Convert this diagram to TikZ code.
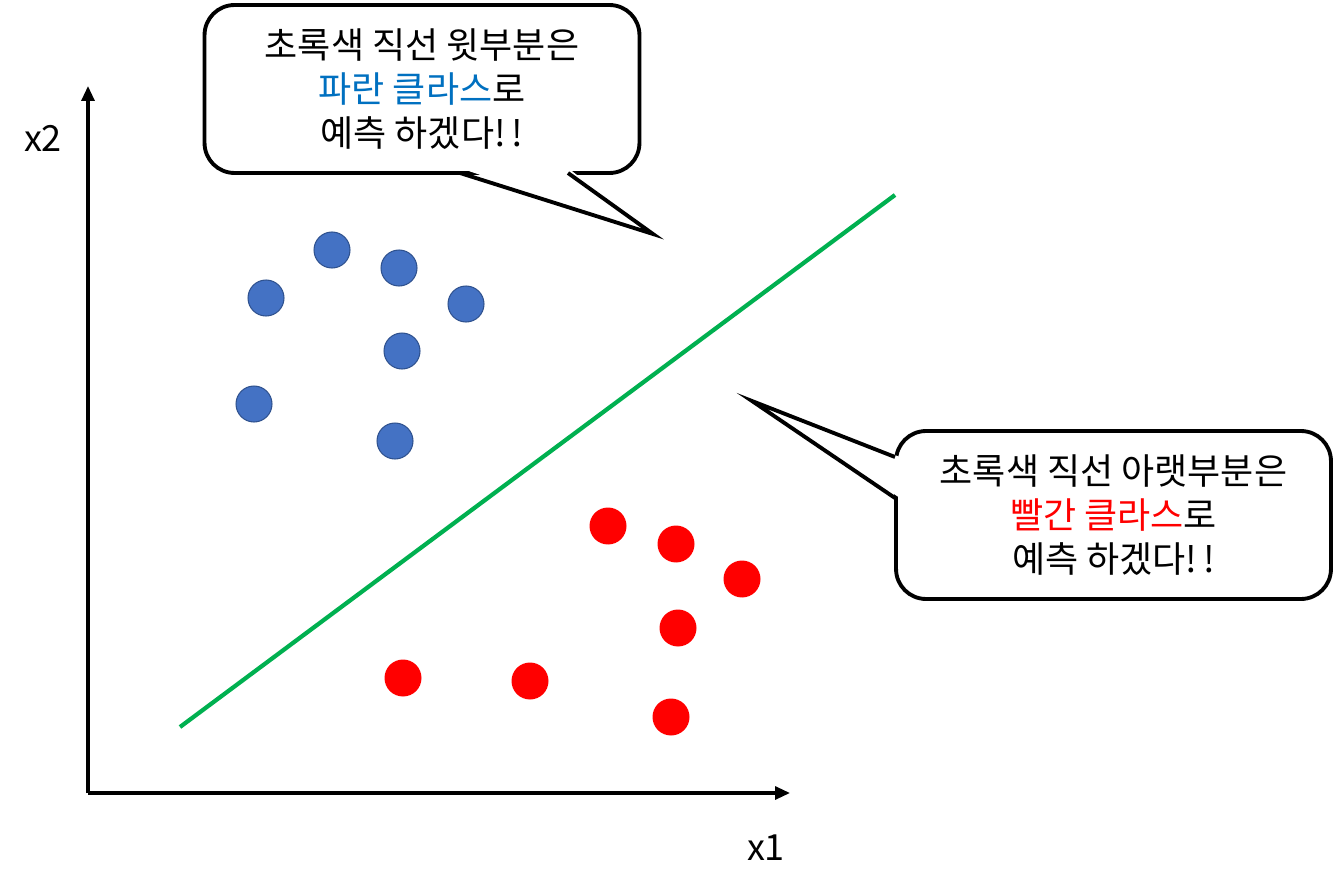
\documentclass[tikz,border=0pt]{standalone}
\usepackage{fontspec}
\setmainfont{Noto Sans CJK KR}
\usepackage{tikz}
\usetikzlibrary{arrows.meta, positioning, calc}

\definecolor{clsblue}{HTML}{0070C0}
\definecolor{clsred}{HTML}{FF0000}
\definecolor{dotblue}{HTML}{4472C4}
\definecolor{dotedge}{HTML}{2F528F}
\definecolor{linegreen}{HTML}{00B050}

\begin{document}
\begin{tikzpicture}[
  x=0.02cm, y=-0.02cm,
  bubble/.style={rectangle, draw, fill=white, line width=2.2pt, rounded corners=0.6cm, minimum width=8.7cm, minimum height=3.36cm, align=center, font=\fontsize{20.5}{25}\selectfont},
  tail/.style={line width=2.2pt, line join=miter},
  bluept/.style={circle, fill=dotblue, draw=dotedge, line width=0.6pt, minimum size=0.72cm, inner sep=0pt},
  redpt/.style={circle, fill=clsred, minimum size=0.74cm, inner sep=0pt},
  arr/.style={-{Triangle[length=0.3cm, width=0.26cm]}, line width=1.8pt},
  lbl/.style={font=\fontsize{20.5}{22}\selectfont},
]
\useasboundingbox (0,0) rectangle (1336,892);

% Axes
\coordinate (o) at (88,793);
\coordinate (xend) at (790,793);
\coordinate (yend) at (88,86);
\draw[arr] (o) -- (xend);
\draw[arr] (o) -- (yend);
\node[lbl] (x1) at (766,848) {x1};
\node[lbl] (x2) at (43,138) {x2};

% Decision line
\coordinate (g0) at (180,727);
\coordinate (g1) at (895,195);
\draw[linegreen, line width=2.4pt] (g0) -- (g1);

% Blue class
\node[bluept] (b1) at (332,250) {};
\node[bluept] (b2) at (399,268) {};
\node[bluept] (b3) at (266,298) {};
\node[bluept] (b4) at (466,304) {};
\node[bluept] (b5) at (402,351) {};
\node[bluept] (b6) at (254,404) {};
\node[bluept] (b7) at (395,441) {};

% Red class
\node[redpt] (r1) at (608,526) {};
\node[redpt] (r2) at (676,544) {};
\node[redpt] (r3) at (742,579) {};
\node[redpt] (r4) at (678,628) {};
\node[redpt] (r5) at (403,678) {};
\node[redpt] (r6) at (530,681) {};
\node[redpt] (r7) at (671,717) {};

% Speech bubbles
\node[bubble] (say1) at (422,89) {초록색 직선 윗부분은\\\textcolor{clsblue}{파란 클라스}로\\예측 하겠다!\,!};
\node[bubble] (say2) at (1113.5,515) {초록색 직선 아랫부분은\\\textcolor{clsred}{빨간 클라스}로\\예측 하겠다!\,!};

\coordinate (tip1) at (653,234);
\coordinate (tip2) at (752,401);
\fill[white] (460,168) -- (tip1) -- (568,168) -- cycle;
\draw[tail] (460,173) -- (tip1) -- (568,173);
\fill[white] (900,457) -- (tip2) -- (900,498) -- cycle;
\draw[tail] (895,457) -- (tip2) -- (895,498);
\end{tikzpicture}
\end{document}
